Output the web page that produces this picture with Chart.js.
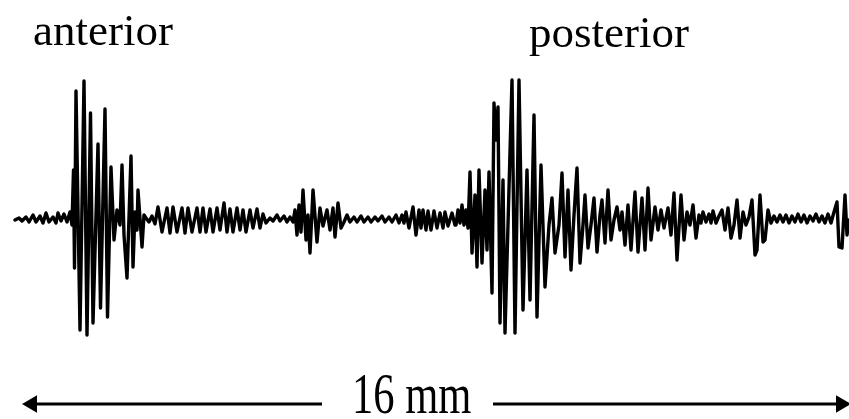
<!DOCTYPE html>
<html>
<head>
<meta charset="utf-8">
<script src="https://cdn.jsdelivr.net/npm/chart.js@4.4.1/dist/chart.umd.min.js"></script>
<style>
  html,body{margin:0;padding:0;background:#fff;}
  #wrap{position:relative;width:849px;height:419px;overflow:hidden;}
  #c{position:absolute;left:0;top:0;}
  .lbl{position:absolute;font-family:"Liberation Serif","Times New Roman",serif;color:#000;white-space:nowrap;transform-origin:0 0;}
</style>
</head>
<body>
<div id="wrap">
  <canvas id="c" width="849" height="419"></canvas>
  <div class="lbl" style="left:33px;top:8px;font-size:45px;line-height:45px;">anterior</div>
  <div class="lbl" style="left:529px;top:10px;font-size:45px;line-height:45px;">posterior</div>
  <div class="lbl" style="left:352px;top:366px;font-size:56px;line-height:56px;transform:scaleX(0.76);">16 mm</div>
</div>
<script>
// ---- trace data (position along scan, amplitude relative to baseline) ----
const leadX = [15,19,22,26,29,33,36,40,43,46,49,53,56,58,61,64,67,70,72];
const leadA = [0,2,-1,3,-2,5,-2,4,-3,7,-2,3,-3,7,-1,6,-2,8,-5];

const anteriorX = [73.5,74.5,76,80,84,87,90.5,93,98,100.5,105,107.5,111,114,117,120,122,124,127,131,133,135,137,138,142,144];
const anteriorA = [50,-48,129,-110,139,-115,107,-103,76,-88,111,-97,53,-20,10,-5,55,-15,-58,64,-47,8,-10,30,-27,5];

const rippleX = [146,149,152,155,158,162,167,170,173,177,182,185,188,192,197,200,203,206,210,213,217,220,224,227,230,233,237,240,243,246,250,253,257,260,263,266,270,273,277,280,284,287,290,293];
const rippleA = [2,-2,4,-4,13,-12,12,-13,13,-12,12,-13,12,-12,12,-12,12,-12,11,-12,12,-10,17,-12,11,-12,12,-10,10,-12,10,-8,11,-8,6,-3,2,-1,5,-1,4,-2,3,-2];

const midX = [295,297,299,301,303,306,308,310,313,317,320,323,327,330,333,335,338,341,344,347,350,354,357,361,364,368,371,375,378,382,385,389,392,396];
const midA = [10,-15,15,-12,30,-20,5,-33,30,-22,12,-6,10,-10,12,-17,17,-8,-2,5,-2,3,-2,4,-2,3,-2,3,-1,4,-2,3,-2,5];

const preX = [399,402,404,406,409,413,416,419,421,423,426,428,431,434,437,440,443,445,448,452,455];
const preA = [-3,5,-3,8,-8,13,-15,10,-8,10,-10,9,-10,9,-8,7,-8,8,-6,7,-5];

const posteriorX = [456,458,460,462,464,466,468,470,472,475,477,479,482,485,487,489,492,494,496,498,500,503,505,512,515,519,523,527,530,534,537,541,545,549,552,555,559,562,565,568,571,574,577,580,583,585,588,591,594,597,600,602,605,608,611,614,617,620,622,625,628,631,635,638,642,645,648,651,655,658,661,664,668,671,674,677,681,684,687,690,693,696,699,701,703,706,709,711];
const posteriorA = [-5,10,-3,15,-5,10,-8,48,-33,25,-47,50,-43,30,-30,48,-73,117,80,113,-103,40,-113,140,-113,140,-90,50,-80,105,-97,55,-67,-5,22,-33,-5,47,-37,30,-50,5,52,-43,-5,25,-28,-5,22,-32,5,20,-23,30,-20,0,13,-10,8,-25,15,-30,28,-32,22,-30,32,-20,13,-10,10,-8,12,-15,27,-40,25,-20,8,-5,15,-18,5,-3,8,-2,6,-3];

const tailX = [713,716,719,722,725,728,731,734,737,740,743,746,749,752,755,757,760,763,765,768,771,774,777,780,783,786,789,792,795,798,801,804,807,810,813,816,819,822,825,828,831,834,837,839,842,845,847,849];
const tailA = [9,-3,4,10,-10,12,-18,-5,20,-18,8,-5,3,20,-35,-30,25,-22,-20,10,-3,4,-2,5,-2,5,-3,4,-2,6,-2,5,-3,4,-1,6,-2,4,-3,6,-3,8,18,-27,-28,25,-15,0];

// scale bar (16 mm): level, ends, and the gap left for its label
const barLevel = -184;
const barStart = 25, barEnd = 848;
const barGap = [322, 493];

// ---- build ----
const xs = [].concat(leadX, anteriorX, rippleX, midX, preX, posteriorX, tailX);
const as = [].concat(leadA, anteriorA, rippleA, midA, preA, posteriorA, tailA);
const trace = xs.map((x,i)=>({x:x, y:as[i]}));

const head = 7;
new Chart(document.getElementById('c'), {
  type: 'line',
  data: {
    datasets: [
      { data: trace, borderColor:'#000', borderWidth:3.4, pointRadius:0, tension:0,
        borderJoinStyle:'round', borderCapStyle:'round', clip:false },
      { data: [{x:barStart+head, y:barLevel},{x:barGap[0], y:barLevel}], borderColor:'#000',
        backgroundColor:'#000', borderWidth:3, pointStyle:'triangle', pointRadius:[head,0],
        pointRotation:[-90,0], tension:0, clip:false },
      { data: [{x:barGap[1], y:barLevel},{x:barEnd-head, y:barLevel}], borderColor:'#000',
        backgroundColor:'#000', borderWidth:3, pointStyle:'triangle', pointRadius:[0,head],
        pointRotation:[0,90], tension:0, clip:false }
    ]
  },
  options: {
    responsive:false, animation:false, events:[],
    layout:{padding:0, autoPadding:false},
    plugins:{legend:{display:false}, tooltip:{enabled:false}},
    scales:{
      x:{type:'linear', min:0, max:849, display:false},
      y:{type:'linear', min:-199, max:220, display:false}
    }
  }
});
</script>
</body>
</html>
